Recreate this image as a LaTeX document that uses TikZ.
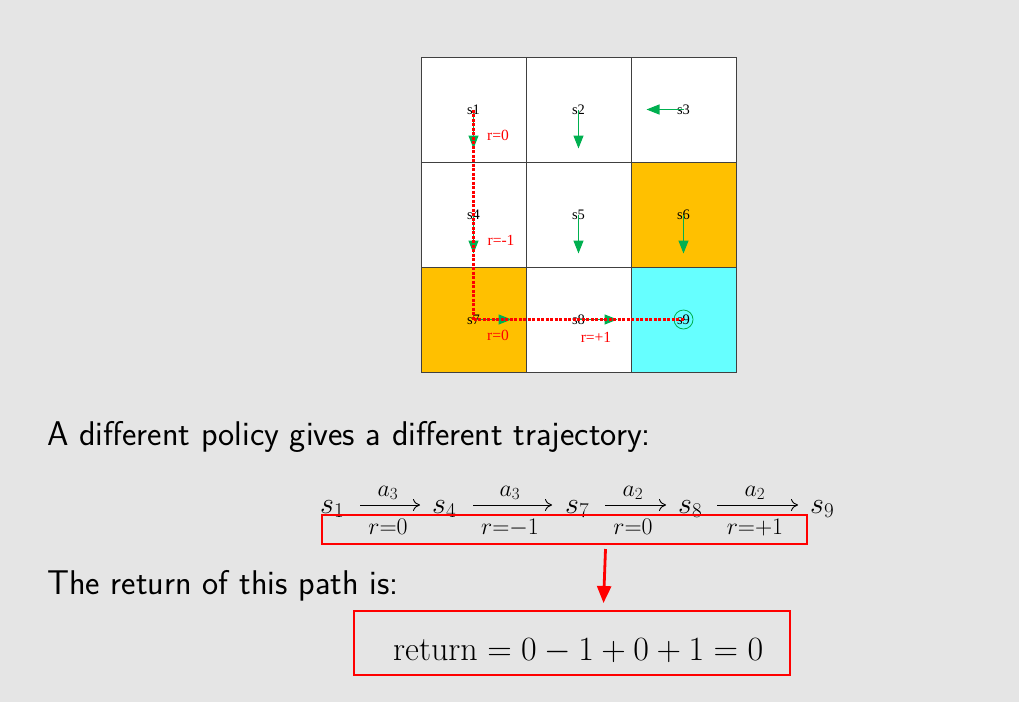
\RequirePackage{fix-cm}
\documentclass[tikz,border=0pt]{standalone}
\usepackage{amsmath}
\usepackage{fontspec}
\newfontfamily\gridfont{Liberation Serif}
\usetikzlibrary{arrows.meta,calc}
\definecolor{bgc}{HTML}{E5E5E5}
\definecolor{gridc}{HTML}{404040}
\definecolor{orangec}{HTML}{FFC000}
\definecolor{cyanc}{HTML}{66FFFF}
\definecolor{greenc}{HTML}{00B050}
\definecolor{redc}{HTML}{FF0000}
\tikzset{
  cell/.style={draw=gridc, line width=1pt, minimum size=105pt, inner sep=0pt, fill=white, font=\gridfont\fontsize{14.5}{14.5}\selectfont},
  garrow/.style={color=greenc, line width=1.2pt, -{Triangle[length=13pt,width=10pt]}},
  rdash/.style={draw=redc, line width=2.2pt},
  rlab/.style={text=redc, font=\gridfont\fontsize{15.5}{15.5}\selectfont, inner sep=0pt},
  body/.style={anchor=base west, inner sep=0pt, font=\sffamily\fontsize{34.3}{40}\selectfont},
  st/.style={anchor=base west, inner sep=0pt, font=\fontsize{30}{34}\selectfont},
  lab/.style={inner sep=0pt, anchor=base, font=\fontsize{34}{38}\selectfont},
  tarrow/.style={line width=0.9pt, -{Computer Modern Rightarrow[length=7pt,width=12pt]}},
  redbox/.style={draw=redc, line width=2.8pt, inner sep=0pt},
  rarrow/.style={color=redc, line width=2.8pt, -{Triangle[length=17pt,width=14pt]}}
}
\begin{document}
\begin{tikzpicture}[x=1pt,y=-1pt]
\fill[bgc] (0,0) rectangle (1019,702);
\useasboundingbox (0,0) rectangle (1019,702);
% grid
\node[cell] (c1) at (473.5,109.5) {s1};
\node[cell] (c2) at (578.5,109.5) {s2};
\node[cell] (c3) at (683.5,109.5) {s3};
\node[cell] (c4) at (473.5,214.5) {s4};
\node[cell] (c5) at (578.5,214.5) {s5};
\node[cell, fill=orangec] (c6) at (683.5,214.5) {s6};
\node[cell, fill=orangec] (c7) at (473.5,319.5) {s7};
\node[cell] (c8) at (578.5,319.5) {s8};
\node[cell, fill=cyanc] (c9) at (683.5,319.5) {s9};
% policy arrows
\draw[garrow] (c1.center) -- ++(0,39);
\draw[garrow] (c2.center) -- ++(0,39);
\draw[garrow] (c3.center) -- ++(-37,0);
\draw[garrow] (c4.center) -- ++(0,39);
\draw[garrow] (c5.center) -- ++(0,39);
\draw[garrow] (c6.center) -- ++(0,39);
\draw[garrow] (c7.center) -- ++(38,0);
\draw[garrow] (c8.center) -- ++(39,0);
\draw[color=greenc, line width=0.8pt] (c9.center) circle (9.5pt);
% trajectory in grid (red dotted path s1 -> s7 -> s9)
\foreach \k in {0,...,46} {
  \draw[rdash] ($(c1.center)+(0,4.5*\k)$) -- ++(0,3);
}
\foreach \k in {0,...,46} {
  \draw[rdash] ($(c7.center)+(4.5*\k,0)$) -- ++(3,0);
}
\node[rlab] (r1) at (498,135) {r=0};
\node[rlab] (r2) at (501,240) {r=-1};
\node[rlab] (r3) at (498,335) {r=0};
\node[rlab] (r4) at (596,337) {r=+1};
% text
\node[body] (t1) at (47,445) {A different policy gives a different trajectory:};
\node[body] (t2) at (47,594) {The return of this path is:};
% trajectory formula
\node[st] (p1) at (320,513) {$s_1$};
\node[st] (p4) at (432,513) {$s_4$};
\node[st] (p7) at (565,513) {$s_7$};
\node[st] (p8) at (678,513) {$s_8$};
\node[st] (p9) at (810,513) {$s_9$};
\coordinate (e1a) at (360,505); \coordinate (e1b) at (420,505);
\coordinate (e2a) at (473,505); \coordinate (e2b) at (552,505);
\coordinate (e3a) at (605,505); \coordinate (e3b) at (666,505);
\coordinate (e4a) at (717,505); \coordinate (e4b) at (798,505);
\draw[tarrow] (e1a) -- (e1b);
\draw[tarrow] (e2a) -- (e2b);
\draw[tarrow] (e3a) -- (e3b);
\draw[tarrow] (e4a) -- (e4b);
\node[lab] (l1a) at (388,496) {$\scriptstyle a_3$};
\node[lab] (l2a) at (510,496) {$\scriptstyle a_3$};
\node[lab] (l3a) at (633,496) {$\scriptstyle a_2$};
\node[lab] (l4a) at (755,496) {$\scriptstyle a_2$};
\node[lab] (l1b) at (388,534) {$\scriptstyle r=0$};
\node[lab] (l2b) at (510,534) {$\scriptstyle r=-1$};
\node[lab] (l3b) at (633,534) {$\scriptstyle r=0$};
\node[lab] (l4b) at (755,534) {$\scriptstyle r=+1$};
\node[redbox, minimum width=485pt, minimum height=29pt] (box1) at (564.5,529.5) {};
% return
\node[redbox, minimum width=436pt, minimum height=64pt] (box2) at (572,643) {};
\node[anchor=base west, inner sep=0pt, font=\fontsize{34}{40}\selectfont] (ret) at (393,660)
  {$\text{return} = 0 - 1 + 0 + 1 = 0$};
\coordinate (a1) at (605.5,549);
\coordinate (a2) at (603.5,603);
\draw[rarrow] (a1) -- (a2);
\end{tikzpicture}
\end{document}
